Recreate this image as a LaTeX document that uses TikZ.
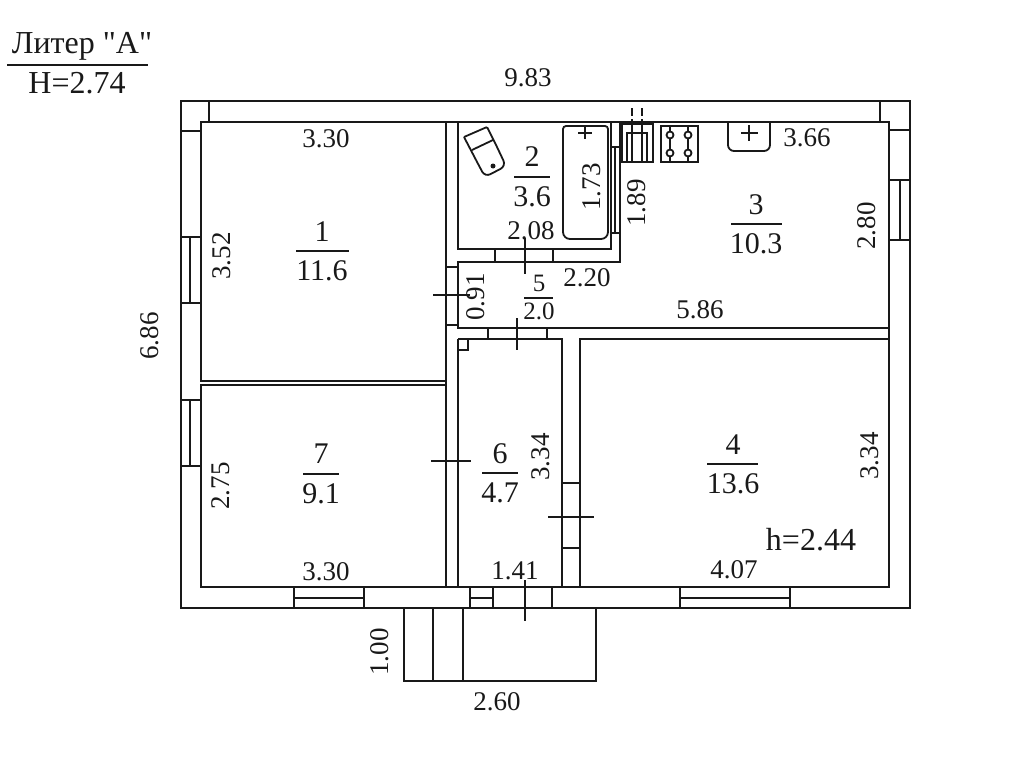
\documentclass[tikz,border=0pt]{standalone}
\usepackage{fontspec}
\setmainfont{Liberation Serif}
\newfontfamily\headfont{Liberation Serif}
\usetikzlibrary{positioning}
\tikzset{
    wall/.style={line width=2.2pt, black!90},
    thin wall/.style={line width=1.8pt, black!90},
    dim/.style={font=\fontsize{27}{27}\selectfont, inner sep=0pt, black!90},
    dimv/.style={dim, rotate=90},
    roomtext/.style={font=\fontsize{30}{30}\selectfont, inner sep=0pt, black!90},
}
\begin{document}
\begin{tikzpicture}[x=1pt,y=-1pt]
\useasboundingbox (0,0) rectangle (1024,768);
% Header
\node[roomtext, font=\fontsize{32}{32}\headfont] (liter) at (82,46) {Литер "А"};
\node[roomtext, font=\fontsize{32}{32}\headfont] (height) at (77,83) {Н=2.74};
\draw[wall] (7,65) -- (148,65);

% Outer walls and rooms
\draw[wall] (181,101) rectangle (910,608);
\draw[wall] (201,122) rectangle (446,381);
\draw[wall] (201,385) rectangle (446,587);
\draw[wall] (458,122) -- (458,249) -- (611,249) -- (611,122);
\draw[wall] (201,122) -- (889,122) -- (889,587) -- (201,587);
\draw[wall] (620,122) -- (620,262) -- (458,262) -- (458,328) -- (889,328);
\draw[wall] (458,339) -- (458,587);
\draw[wall] (458,339) -- (562,339) -- (562,587);
\draw[wall] (889,339) -- (580,339) -- (580,587);
\draw[wall] (446,381) -- (446,587);

% Wall joints
\foreach \x in {209,880} {
    \draw[thin wall] (\x,101) -- (\x,122);
}
\draw[thin wall] (181,131) -- (201,131);
\draw[thin wall] (889,130) -- (910,130);
\draw[thin wall] (611,147) -- (620,147);
\draw[thin wall] (611,233) -- (620,233);
\draw[thin wall] (615,147) -- (615,233);
\draw[thin wall] (446,267) -- (458,267);
\draw[thin wall] (446,325) -- (458,325);
\draw[thin wall] (562,483) -- (580,483);
\draw[thin wall] (562,548) -- (580,548);
\draw[thin wall] (458,350) -- (468,350) -- (468,339);

% Door openings
\foreach \x in {495,553} {
    \draw[thin wall] (\x,249) -- (\x,262);
}
\foreach \x in {488,547} {
    \draw[thin wall] (\x,328) -- (\x,339);
}
\draw[thin wall] (470,587) -- (470,608);
\draw[thin wall] (493,587) -- (493,608);
\draw[thin wall] (470,598) -- (493,598);
\draw[thin wall] (552,587) -- (552,608);

% Windows
\foreach \a/\b in {237/303,400/466} {
    \draw[thin wall] (181,\a) -- (201,\a);
    \draw[thin wall] (181,\b) -- (201,\b);
    \draw[wall] (190,\a) -- (190,\b);
}
\draw[thin wall] (889,180) -- (910,180);
\draw[thin wall] (889,240) -- (910,240);
\draw[wall] (900,180) -- (900,240);
\foreach \a/\b in {294/364,680/790} {
    \draw[thin wall] (\a,587) -- (\a,608);
    \draw[thin wall] (\b,587) -- (\b,608);
    \draw[wall] (\a,598) -- (\b,598);
}

% Porch
\draw[wall] (404,608) -- (404,681) -- (596,681) -- (596,608);
\foreach \x in {433,463} {
    \draw[thin wall] (\x,608) -- (\x,681);
}

% Bath
\draw[thin wall] (563,129) arc (180:270:3) -- (605,126) arc (270:360:3) -- (608,232) arc (0:90:7) -- (570,239) arc (90:180:7) -- cycle;
\draw[thin wall] (578,133) -- (592,133);
\draw[thin wall] (585,127) -- (585,139);

% Toilet
\draw[thin wall, rounded corners=1pt] (464,137) -- (487,127) -- (497,147);
\draw[thin wall, rounded corners=6pt] (497,147) -- (506,166) -- (485,177) -- (476,160);
\draw[thin wall, rounded corners=1pt] (476,160) -- (464,137);
\draw[thin wall] (472,150) -- (493,140);
\fill[black!90] (493,166) circle (2.5);

% Vent
\draw[thin wall] (622,124) rectangle (653,162);
\draw[thin wall] (627,133) rectangle (647,162);
\draw[thin wall] (632,122) -- (632,162);
\draw[thin wall] (642,122) -- (642,162);
\draw[thin wall, dashed, dash pattern=on 8pt off 3pt] (632,108) -- (632,122);
\draw[thin wall, dashed, dash pattern=on 8pt off 3pt] (642,108) -- (642,122);

% Stove
\draw[thin wall] (661,126) rectangle (698,162);
\foreach \x in {670,688} {
    \draw[thin wall] (\x,127) -- (\x,161);
    \foreach \y in {135,153} {
        \draw[thin wall, fill=white] (\x,\y) circle (3.5);
    }
}

% Sink
\draw[thin wall, rounded corners=6pt] (728,122) -- (728,151) -- (770,151) -- (770,122);
\draw[thin wall] (741,133) -- (758,133);
\draw[thin wall] (749,125) -- (749,141);

% Dimension ticks
\draw[thin wall] (525,238) -- (525,274);
\draw[thin wall] (433,295) -- (470,295);
\draw[thin wall] (517,318) -- (517,350);
\draw[thin wall] (431,461) -- (471,461);
\draw[thin wall] (548,517) -- (594,517);
\draw[thin wall] (525,580) -- (525,621);

% Room numbers and areas
\foreach \x/\n/\a/\h/\ya/\yb/\yc/\w in {322/1/11.6/296/232/251/270/53, 532/2/3.6/514/157/177/194/36, 756/3/10.3/731/205/224/244/51, 733/4/13.6/707/445/464/483/51, 321/7/9.1/303/454/474/495/36, 500/6/4.7/482/454/473/492/36} {
    \node[roomtext] (num\n) at (\x,\ya) {\n};
    \node[roomtext] (area\n) at (\x,\yb+20) {\a};
    \draw[wall] (\h,\yb) -- ++(\w,0);
}
\node[dim, font=\fontsize{25}{25}\selectfont] (num5) at (539,283) {5};
\node[dim, font=\fontsize{25}{25}\selectfont] (area5) at (539,311) {2.0};
\draw[wall] (524,298) -- (553,298);

% Dimensions
\foreach \x/\y/\t in {528/78/9.83, 326/139/3.30, 807/138/3.66, 531/231/2.08, 587/278/2.20, 700/310/5.86, 326/572/3.30, 515/571/1.41, 734/570/4.07, 497/702/2.60} {
    \node[dim] at (\x,\y) {\t};
}
\foreach \x/\y/\t in {150/336/6.86, 222/256/3.52, 221/486/2.75, 592/187/1.73, 637/203/1.89, 867/226/2.80, 476/297/0.91, 541/457/3.34, 870/456/3.34, 380/652/1.00} {
    \node[dimv] at (\x,\y) {\t};
}
\node[roomtext, font=\fontsize{32}{32}\selectfont] (ceil) at (811,540) {h=2.44};
\end{tikzpicture}
\end{document}
